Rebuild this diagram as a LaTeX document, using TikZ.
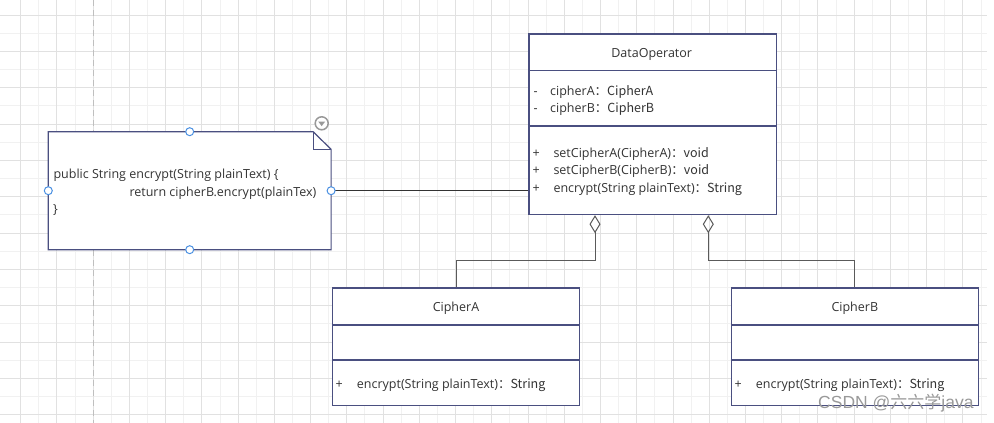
\documentclass[tikz,border=0pt]{standalone}
\usepackage{fontspec}
\setmainfont{Open Sans}
\newfontfamily\cjk{Noto Sans CJK SC}
\newfontfamily\wmlatin{Liberation Sans}
\usetikzlibrary{arrows.meta}
\definecolor{umlborder}{HTML}{4A4F80}
\definecolor{txtc}{HTML}{333333}
\definecolor{gridmaj}{HTML}{E1E1E1}
\definecolor{gridmin}{HTML}{F1F1F1}
\definecolor{handlec}{HTML}{4A90E2}
\definecolor{linkc}{HTML}{5A5A5A}
\begin{document}
\begin{tikzpicture}[x=1pt,y=-1pt,
  umlbox/.style={draw=umlborder, line width=1.2pt, fill=white, anchor=north west, inner sep=0},
  sepline/.style={draw=umlborder, line width=1.2pt},
  txt/.style={text=txtc, font=\fontsize{12.5}{14}\selectfont, inner sep=0, anchor=base west},
  ttl/.style={txt, anchor=base},
  agg/.style={draw=linkc, line width=1pt, {Diamond[open, length=18pt, width=11pt, line width=1pt]}-},
  notelink/.style={draw=black!80, line width=1.2pt},
  hdl/.style={circle, draw=handlec, fill=white, line width=1pt, minimum size=8pt, inner sep=0},
]
\useasboundingbox (0,0) rectangle (994,423);
\fill[white] (0,0) rectangle (994,423);
% grid
\foreach \k in {1,3,...,53} {\draw[gridmin, line width=1pt] ({20.7+\k*18.12},0) -- ({20.7+\k*18.12},423);}
\foreach \k in {1,3,...,21} {\draw[gridmin, line width=1pt] (0,{15+\k*18.17}) -- (987,{15+\k*18.17});}
\foreach \k in {0,2,...,52} {\draw[gridmaj, line width=1pt] ({20.7+\k*18.12},0) -- ({20.7+\k*18.12},423);}
\foreach \k in {0,2,...,22} {\draw[gridmaj, line width=1pt] (0,{15+\k*18.17}) -- (987,{15+\k*18.17});}
\draw[black!25, line width=0.8pt, dash pattern=on 6pt off 4pt] (93.2,0) -- (93.2,423);

% DataOperator
\node[umlbox, minimum width=247.4pt, minimum height=180.7pt] (dataop) at (528.3,33.3) {};
\draw[sepline] (dataop.west |- 0,70.7) -- (dataop.east |- 0,70.7);
\draw[sepline] (dataop.west |- 0,126) -- (dataop.east |- 0,126);
\node[ttl] (dtitle) at (651.7,57.2) {DataOperator};
\node[txt] (am1) at (533.5,95.2) {-};
\node[txt] (a1) at (550,95.2) {cipherA\cjk{：}CipherA};
\node[txt] (am2) at (533.5,112.2) {-};
\node[txt] (a2) at (550,112.2) {cipherB\cjk{：}CipherB};
\node[txt] (mp1) at (532.5,157.2) {+};
\node[txt] (m1) at (553.3,157.2) {setCipherA(CipherA)\cjk{：}void};
\node[txt] (mp2) at (532.5,174.8) {+};
\node[txt] (m2) at (553.3,174.8) {setCipherB(CipherB)\cjk{：}void};
\node[txt] (mp3) at (532.5,192.8) {+};
\node[txt] (m3) at (553.3,192.8) {encrypt(String plainText)\cjk{：}String};

% CipherA
\node[umlbox, minimum width=247.3pt, minimum height=117.7pt] (cipa) at (331.7,287.3) {};
\draw[sepline] (cipa.west |- 0,325) -- (cipa.east |- 0,325);
\draw[sepline] (cipa.west |- 0,360) -- (cipa.east |- 0,360);
\node[ttl] (catitle) at (cipa.north |- 0,311.8) {CipherA};
\node[txt] (cap) at (335.5,388.5) {+};
\node[txt] (cam) at (356.7,388.5) {encrypt(String plainText)\cjk{：}String};

% CipherB
\node[umlbox, minimum width=247pt, minimum height=117.7pt] (cipb) at (730.7,287.3) {};
\draw[sepline] (cipb.west |- 0,325) -- (cipb.east |- 0,325);
\draw[sepline] (cipb.west |- 0,360) -- (cipb.east |- 0,360);
\node[ttl] (cbtitle) at (cipb.north |- 0,311.8) {CipherB};
\node[txt] (cbp) at (734.5,388.5) {+};
\node[txt] (cbm) at (755.7,388.5) {encrypt(String plainText)\cjk{：}String};

% aggregations
\draw[agg] (dataop.south -| 595,0) |- (456.7,260.7) -- (cipa.north -| 456.7,0);
\draw[agg] (dataop.south -| 708.3,0) |- (cipb.north |- 0,260.7) -- (cipb.north);

% note
\node[anchor=north west, minimum width=282.4pt, minimum height=117.6pt, inner sep=0] (note) at (48.3,131.7) {};
\draw[umlborder, line width=1.2pt, fill=white] (note.north west) -- ([xshift=-18pt]note.north east) -- ([yshift=-17.6pt]note.north east) -- (note.south east) -- (note.south west) -- cycle;
\draw[umlborder, line width=1pt] ([xshift=-18pt]note.north east) -- ([xshift=-18pt,yshift=-17.6pt]note.north east) -- ([yshift=-17.6pt]note.north east);
\node[txt] (n1) at (53.3,178) {public String encrypt(String plainText) \{};
\node[txt] (n2) at (129.3,196.3) {return cipherB.encrypt(plainTex)};
\node[txt] (n3) at (53,213) {\}};

% note link
\draw[notelink] (note.east) -- (dataop.west |- note.east);
\fill[black!80] ([xshift=1pt,yshift=-2pt]note.east) rectangle ([xshift=4pt,yshift=2pt]note.east);

% selection handles
\node[hdl] (hn) at (note.north) {};
\node[hdl] (hs) at (note.south) {};
\node[hdl] (hw) at (note.west) {};
\node[hdl] (he) at (note.east) {};

% menu icon
\node[circle, draw=black!40, line width=1.5pt, minimum size=13pt, inner sep=0, fill=white] (menu) at (321.7,123.3) {};
\fill[black!40] ([shift={(-3.5pt,1.8pt)}]menu.center) -- ([shift={(3.5pt,1.8pt)}]menu.center) -- ([shift={(0pt,-2.8pt)}]menu.center) -- cycle;

% watermark
\node[font=\wmlatin\fontsize{17.5}{18}\selectfont, text=black!40, anchor=base west, inner sep=0] (wm) at (818,408.5) {CSDN @{\cjk\fontsize{17}{18}\selectfont 六六学}java};
\end{tikzpicture}
\end{document}
